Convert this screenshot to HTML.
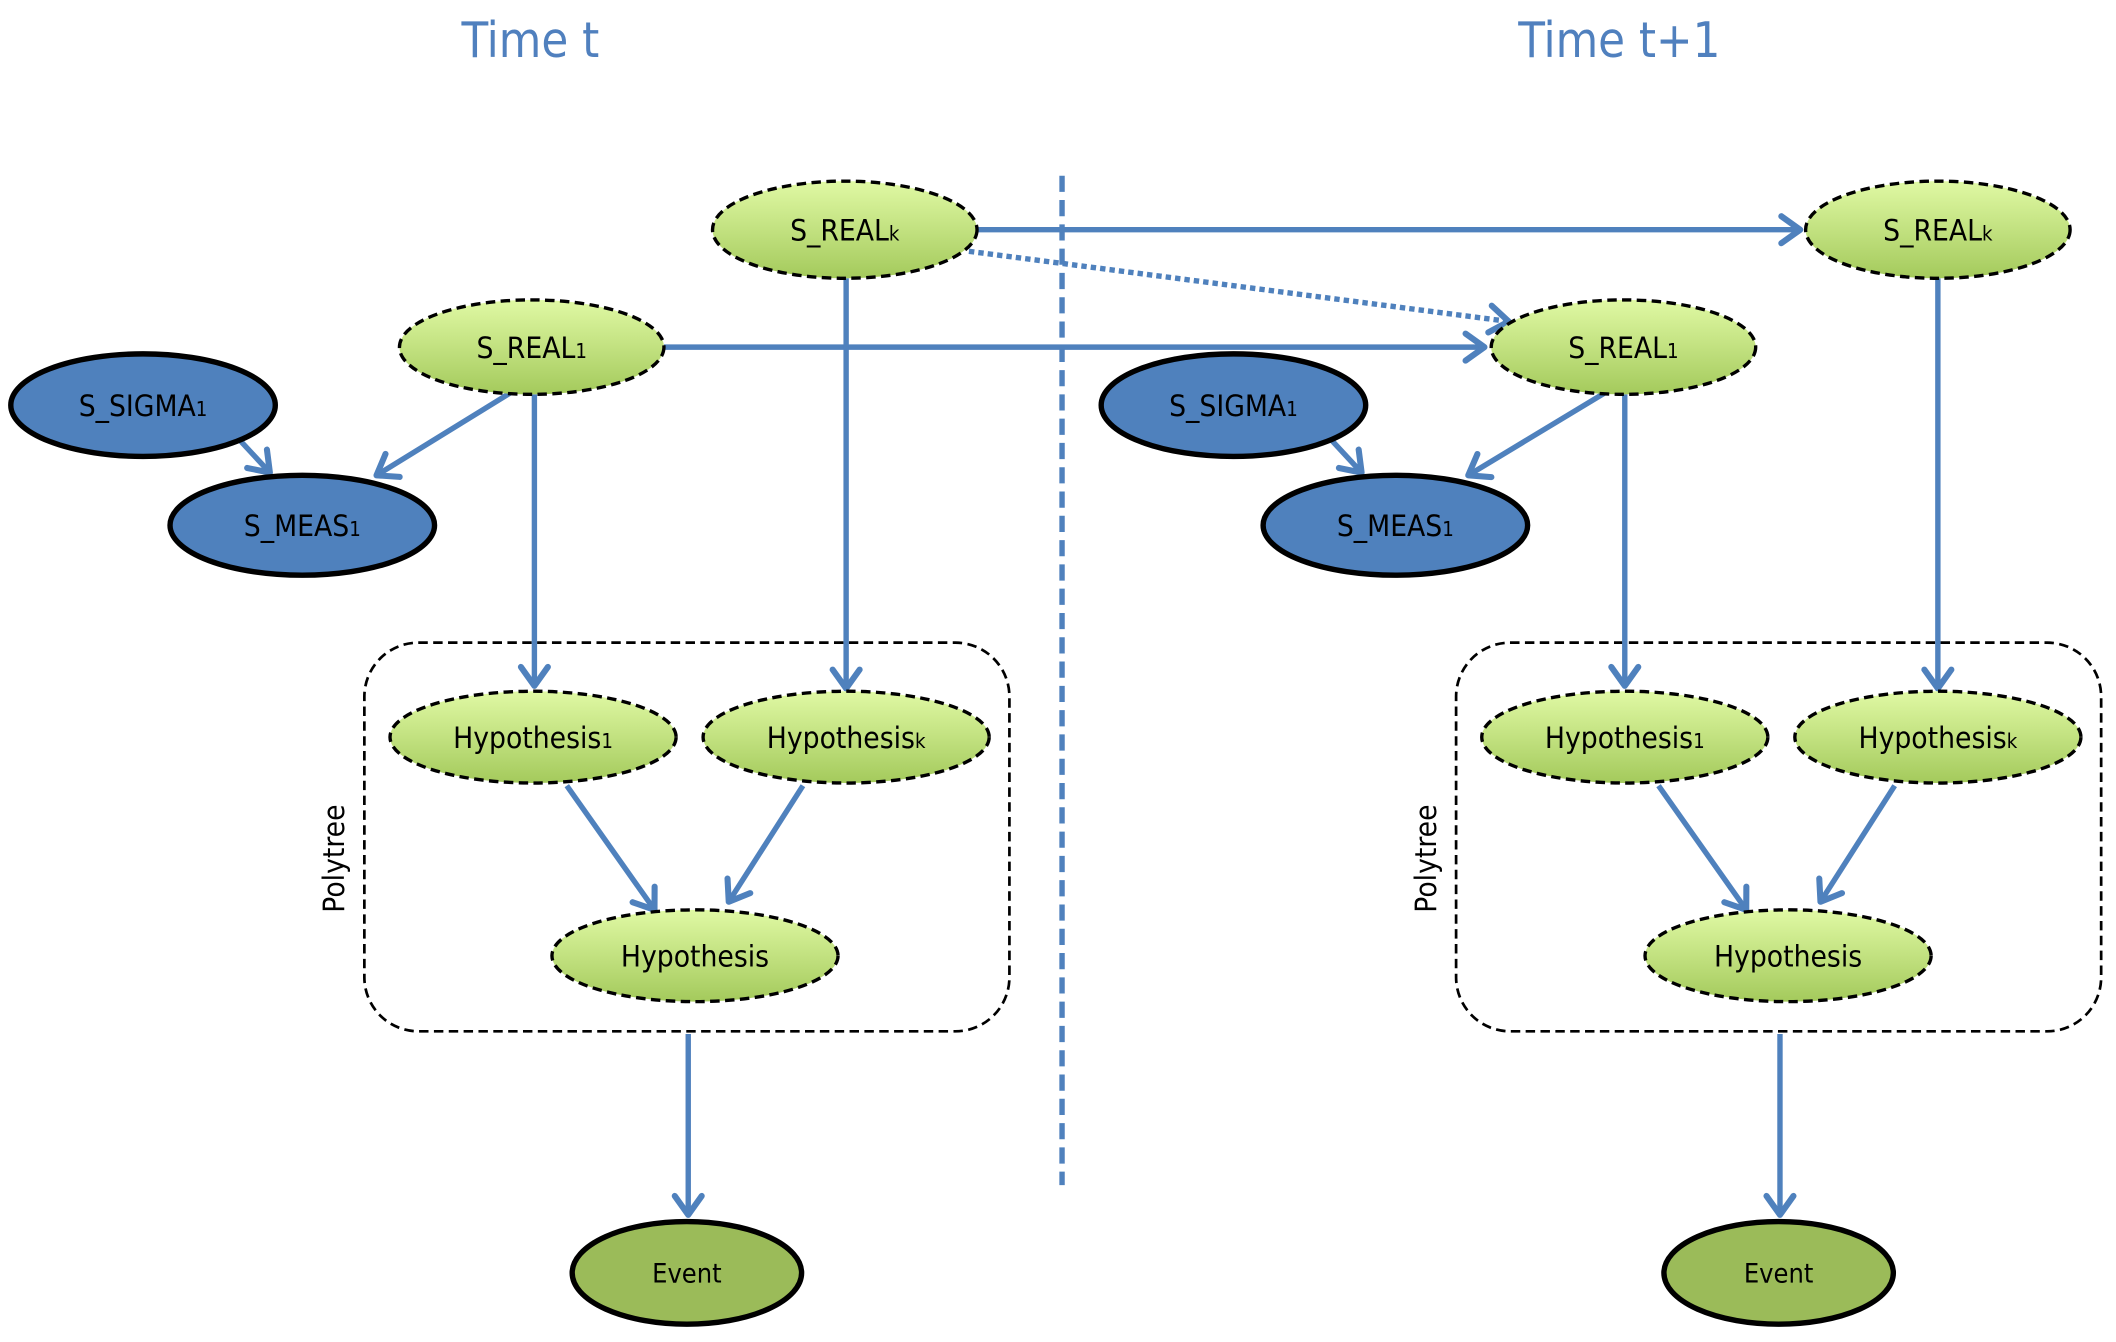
<!DOCTYPE html>
<html><head><meta charset="utf-8"><style>
html,body{margin:0;padding:0;background:#fff;}
svg{display:block;}
text{font-family:"DejaVu Sans Condensed","Liberation Sans",sans-serif;}
</style></head><body>
<svg width="2116" height="1342" viewBox="0 0 1568 994" xmlns="http://www.w3.org/2000/svg">
<defs>
<linearGradient id="g" x1="0" y1="0" x2="0" y2="1">
<stop offset="0" stop-color="#e0f9a4"/><stop offset="1" stop-color="#a4ca5c"/>
</linearGradient>
<marker id="a" viewBox="0 0 20 24" refX="17" refY="12" markerWidth="20" markerHeight="24" orient="auto" markerUnits="userSpaceOnUse" style="overflow:visible">
<polyline points="3,2 17,12 3,22" fill="none" stroke="#4f81bd" stroke-width="4.5" stroke-linecap="round" stroke-linejoin="round"/>
</marker>
</defs>
<g fill="#5080be" font-size="36" text-anchor="middle">
<text x="393" y="42" font-family="DejaVu Sans, sans-serif">Time t</text>
<text x="1200" y="42" font-family="DejaVu Sans, sans-serif">Time t+1</text>
</g>
<line x1="787" y1="130" x2="787" y2="878" stroke="#4f81bd" stroke-width="4" stroke-dasharray="12 6"/>

<g fill="none" stroke="#000" stroke-width="2" stroke-dasharray="7 4">
<rect x="270" y="476" width="478" height="288" rx="40"/>
<rect x="1079" y="476" width="478" height="288" rx="40"/>
</g>
<g font-size="22" fill="#000" text-anchor="middle">
<text transform="translate(255,636) rotate(-90)">Polytree</text>
<text transform="translate(1064,636) rotate(-90)">Polytree</text>
</g>

<g stroke="#4f81bd" stroke-width="4" fill="none" marker-end="url(#a)">
<line x1="724" y1="170" x2="1334" y2="170"/>
<line x1="718" y1="186" x2="1118" y2="238" stroke-dasharray="4 3"/>
<line x1="492" y1="257" x2="1100" y2="257"/>
<line x1="378" y1="291" x2="279" y2="352"/>
<line x1="174" y1="322" x2="200" y2="350"/>
<line x1="396" y1="292" x2="396" y2="508"/>
<line x1="627" y1="206" x2="627" y2="510"/>
<line x1="420" y1="582" x2="485" y2="674"/>
<line x1="595" y1="582" x2="540" y2="668"/>
<line x1="510" y1="766" x2="510" y2="900"/>

<line x1="1189" y1="291" x2="1088" y2="352"/>
<line x1="983" y1="322" x2="1009" y2="350"/>
<line x1="1204" y1="292" x2="1204" y2="508"/>
<line x1="1436" y1="206" x2="1436" y2="510"/>
<line x1="1229" y1="582" x2="1294" y2="674"/>
<line x1="1404" y1="582" x2="1349" y2="668"/>
<line x1="1319" y1="766" x2="1319" y2="900"/>
</g>

<g fill="url(#g)" stroke="#000" stroke-width="2.5" stroke-dasharray="7 4">
<ellipse cx="626" cy="170" rx="98" ry="36"/>
<ellipse cx="1436" cy="170" rx="98" ry="36"/>
<ellipse cx="394" cy="257" rx="98" ry="35"/>
<ellipse cx="1203" cy="257" rx="98" ry="35"/>
<ellipse cx="395" cy="546" rx="106" ry="34"/>
<ellipse cx="627" cy="546" rx="106" ry="34"/>
<ellipse cx="515" cy="708" rx="106" ry="34"/>
<ellipse cx="1204" cy="546" rx="106" ry="34"/>
<ellipse cx="1436" cy="546" rx="106" ry="34"/>
<ellipse cx="1325" cy="708" rx="106" ry="34"/>
</g>
<g fill="#4f81bd" stroke="#000" stroke-width="4">
<ellipse cx="106" cy="300" rx="98" ry="38"/>
<ellipse cx="224" cy="389" rx="98" ry="37"/>
<ellipse cx="914" cy="300" rx="98" ry="38"/>
<ellipse cx="1034" cy="389" rx="98" ry="37"/>
</g>
<g fill="#9bbb59" stroke="#000" stroke-width="4">
<ellipse cx="509" cy="943" rx="85" ry="38"/>
<ellipse cx="1318" cy="943" rx="85" ry="38"/>
</g>

<g font-size="22" fill="#000" text-anchor="middle">
<text x="626" y="178">S_REAL<tspan font-size="15">k</tspan></text>
<text x="1436" y="178">S_REAL<tspan font-size="15">k</tspan></text>
<text x="394" y="265">S_REAL<tspan font-size="15">1</tspan></text>
<text x="1203" y="265">S_REAL<tspan font-size="15">1</tspan></text>
<text x="106" y="308">S_SIGMA<tspan font-size="15">1</tspan></text>
<text x="914" y="308">S_SIGMA<tspan font-size="15">1</tspan></text>
<text x="224" y="397">S_MEAS<tspan font-size="15">1</tspan></text>
<text x="1034" y="397">S_MEAS<tspan font-size="15">1</tspan></text>
<text x="395" y="554">Hypothesis<tspan font-size="15">1</tspan></text>
<text x="627" y="554">Hypothesis<tspan font-size="15">k</tspan></text>
<text x="515" y="716">Hypothesis</text>
<text x="1204" y="554">Hypothesis<tspan font-size="15">1</tspan></text>
<text x="1436" y="554">Hypothesis<tspan font-size="15">k</tspan></text>
<text x="1325" y="716">Hypothesis</text>
<text x="509" y="950" font-size="20">Event</text>
<text x="1318" y="950" font-size="20">Event</text>
</g>
</svg>
</body></html>
